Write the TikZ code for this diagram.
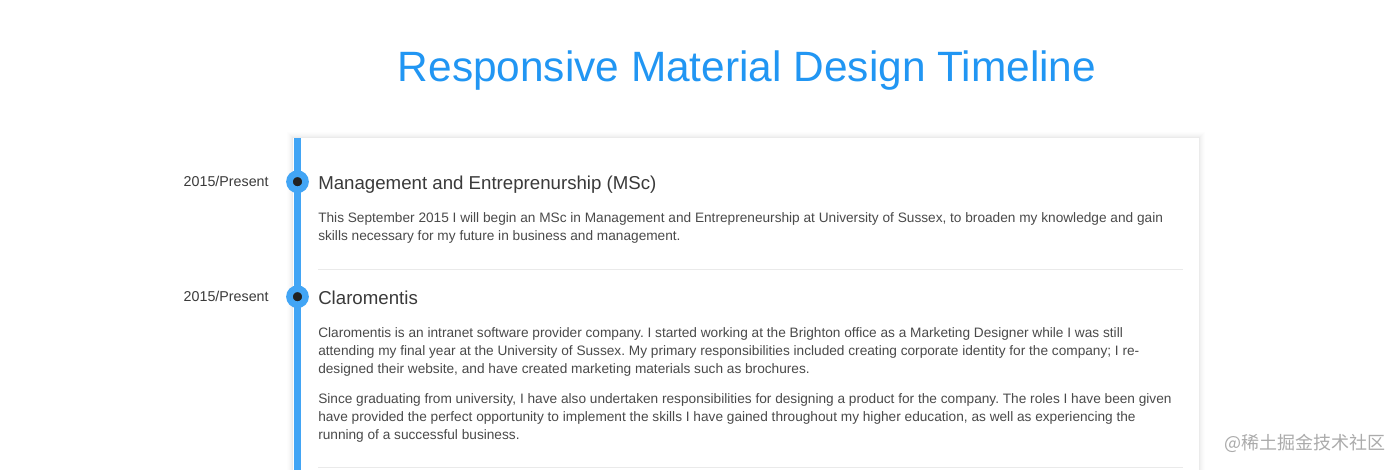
\documentclass[tikz,border=0pt]{standalone}
\usepackage{fontspec}
\setmainfont{Liberation Sans}
\newfontfamily\cjkfont{Noto Sans CJK SC}
\usetikzlibrary{positioning}
\definecolor{mdblue}{HTML}{2196F3}
\definecolor{barblue}{HTML}{42A5F5}
\definecolor{dotdark}{HTML}{222222}
\definecolor{headgray}{HTML}{3A3A3A}
\definecolor{bodygray}{HTML}{4A4A4A}
\definecolor{rulegray}{HTML}{EAEAEA}
\frenchspacing

\begin{document}
\begin{tikzpicture}[x=0.75pt,y=-0.75pt,
    pagetitle/.style={inner sep=0,anchor=base,text=mdblue,font=\fontsize{31.8}{36}\selectfont},
    datelbl/.style={inner sep=0,text=headgray,font=\fontsize{10.7}{13}\selectfont},
    tldot/.style={circle,draw=barblue,fill=dotdark,line width=4.95pt,minimum size=12pt,inner sep=0},
    heading/.style={inner sep=0,anchor=base west,text=headgray,font=\fontsize{14}{17}\selectfont},
    bodytxt/.style={inner sep=0,anchor=north west,align=left,text=bodygray,font=\fontsize{10.25}{13.5}\selectfont},
    sep/.style={draw=rulegray,line width=0.75pt}]
    \useasboundingbox (0,0) rectangle (1400,470);
    \fill[white] (0,0) rectangle (1400,470);
    % card and its shadow
    \foreach \s/\o in {6/0.006,5/0.008,4/0.01,3/0.013,2/0.017,1/0.022}
        \fill[black,opacity=\o] (293-\s,138-\s) rectangle (1199+\s,480);
    \fill[white] (293,138) rectangle (1199,480);
    \fill[barblue] (294,138) rectangle (301,470);
    % title
    \node[pagetitle] (title) at (747,82) {Responsive Material Design Timeline};
    % first entry
    \node[tldot] (dot1) at (297.5,181.7) {};
    \node[datelbl,left=13pt of dot1] (date1) {2015/Present};
    \node[heading] (head1) at (318,190) {Management and Entreprenurship (MSc)};
    \node[bodytxt] (body1) at (318,211.9) {This September 2015 I will begin an MSc in Management and Entrepreneurship at University of Sussex, to broaden my knowledge and gain\\
        skills necessary for my future in business and management.};
    \coordinate (sep1a) at (318,269.3);
    \coordinate (sep1b) at (1183,269.3);
    \draw[sep] (sep1a) -- (sep1b);
    % second entry
    \node[tldot] (dot2) at (297.5,296.7) {};
    \node[datelbl,left=13pt of dot2] (date2) {2015/Present};
    \node[heading] (head2) at (318,304.3) {Claromentis};
    \node[bodytxt] (body2) at (318,326.9) {Claromentis is an intranet software provider company. I started working at the Brighton office as a Marketing Designer while I was still\\
        attending my final year at the University of Sussex. My primary responsibilities included creating corporate identity for the company; I re-\\
        designed their website, and have created marketing materials such as brochures.};
    \node[bodytxt] (body3) at (318,392.9) {Since graduating from university, I have also undertaken responsibilities for designing a product for the company. The roles I have been given\\
        have provided the perfect opportunity to implement the skills I have gained throughout my higher education, as well as experiencing the\\
        running of a successful business.};
    \coordinate (sep2a) at (318,467.3);
    \coordinate (sep2b) at (1183,467.3);
    \draw[sep] (sep2a) -- (sep2b);
    % watermark
    \node[inner sep=0,anchor=west,text=black!33,font=\cjkfont\fontsize{13.5}{16}\selectfont] (mark) at (1224,443) {@稀土掘金技术社区};
\end{tikzpicture}
\end{document}
